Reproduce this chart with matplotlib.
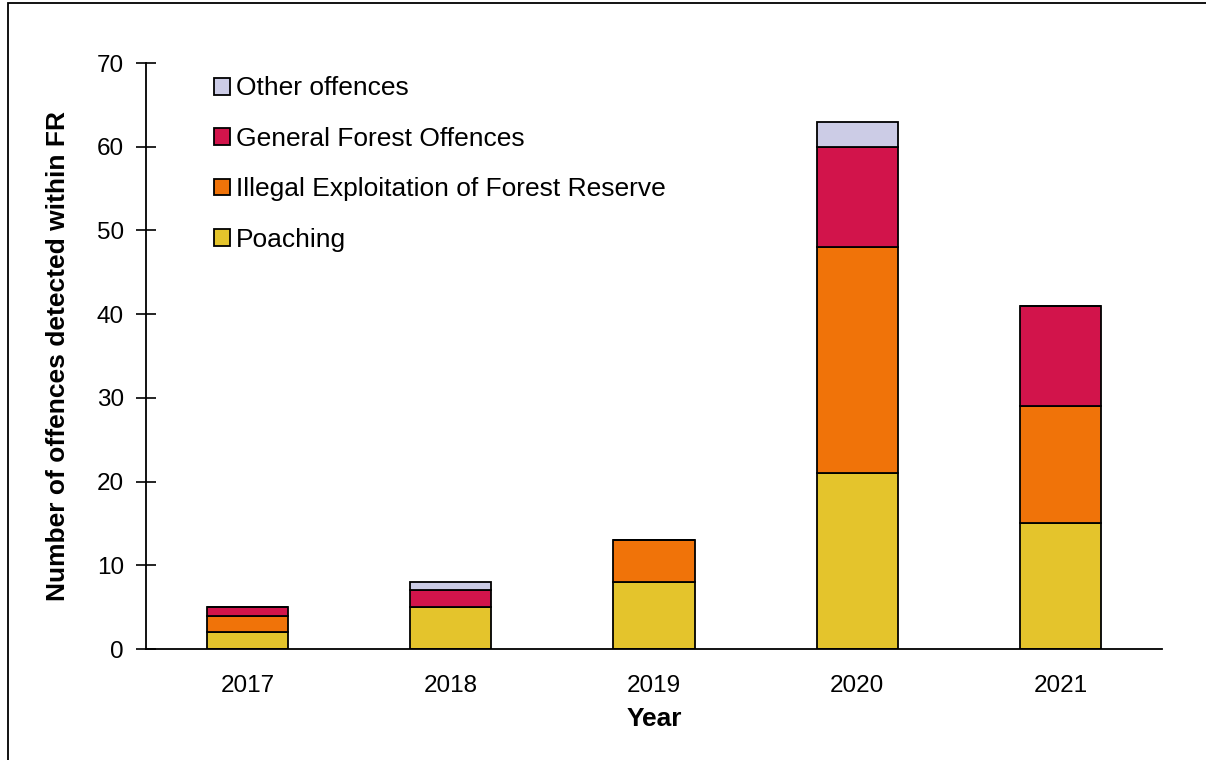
import matplotlib
matplotlib.use("Agg")
import matplotlib.pyplot as plt
import numpy as np
from matplotlib.patches import Rectangle

plt.rcParams['font.family'] = ['Liberation Sans', 'DejaVu Sans']

# data
years = ['2017', '2018', '2019', '2020', '2021']
poaching = [2, 5, 8, 21, 15]
illegal = [2, 0, 5, 27, 14]
general = [1, 2, 0, 12, 12]
other = [0, 1, 0, 3, 0]

series = [
    ('Poaching', poaching, '#E4C42C'),
    ('Illegal Exploitation of Forest Reserve', illegal, '#F07309'),
    ('General Forest Offences', general, '#D2144B'),
    ('Other offences', other, '#CCCCE6'),
]

fig = plt.figure(figsize=(12.06, 7.6), dpi=100)
ax = fig.add_axes([146/1206, 1 - 649/760, (1162 - 146)/1206, (649 - 63)/760])

x = np.arange(len(years))
bottom = np.zeros(len(years))
handles = []
for name, vals, col in series:
    vals = np.array(vals, dtype=float)
    bars = ax.bar(x, vals, 0.4, bottom=bottom, color=col, edgecolor='black',
                  linewidth=1.3, label=name)
    handles.append(bars)
    bottom += vals

ax.set_xlim(-0.5, len(years) - 0.5)
ax.set_ylim(0, 70)
ax.set_yticks(range(0, 71, 10))
ax.set_xticks(x)
ax.set_xticklabels(years)
ax.tick_params(axis='y', direction='inout', length=14, width=1.2, labelsize=17.5, pad=9)
ax.tick_params(axis='x', length=0, labelsize=17.5, pad=19)
ax.spines['top'].set_visible(False)
ax.spines['right'].set_visible(False)
ax.spines['left'].set_linewidth(1.3)
ax.spines['bottom'].set_linewidth(1.3)

ax.set_xlabel('Year', fontsize=19, fontweight='bold', labelpad=7)
ax.set_ylabel('Number of offences detected within FR', fontsize=19, fontweight='bold', labelpad=19)

leg = ax.legend(handles[::-1], [s[0] for s in series][::-1], loc='upper left',
                bbox_to_anchor=(0.057, 0.995), frameon=False, fontsize=19,
                handlelength=0.6, handleheight=0.6, handletextpad=0.2,
                labelspacing=1.0, borderaxespad=0)

# outer frame
fig.patches.append(Rectangle((8/1206, -0.1), 1.2, 1 - 3/760 + 0.1, transform=fig.transFigure,
                             fill=False, edgecolor='black', linewidth=1.3))

fig.savefig('out.png', dpi=100)
